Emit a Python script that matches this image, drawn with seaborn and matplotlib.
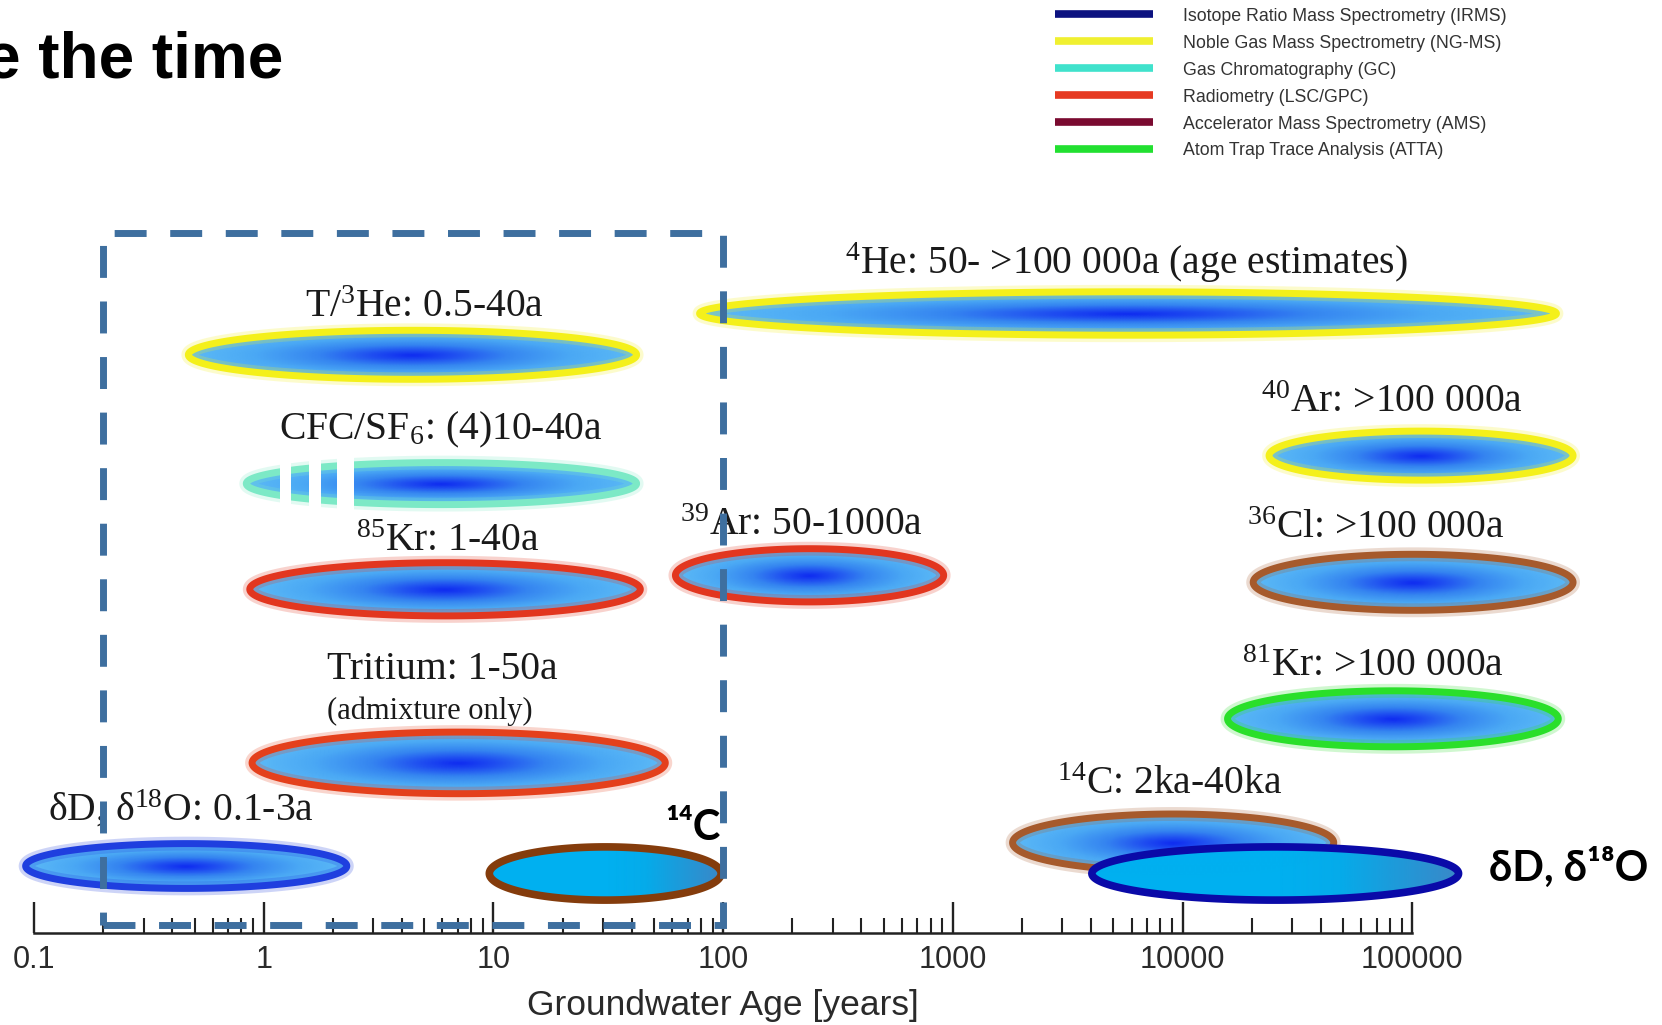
import numpy as np
import matplotlib
matplotlib.use("Agg")
import matplotlib.pyplot as plt
import seaborn as sns
from matplotlib.patches import Polygon, Rectangle
from matplotlib.colors import LinearSegmentedColormap
from matplotlib.lines import Line2D

# ---------------- data ----------------
tracers = ["T/3He", "CFC/SF6", "Kr85", "Tritium", "dD_short", "C14_short",
           "He4", "Ar40", "Ar39", "Cl36", "Kr81", "C14", "dD_long"]
age_min = [0.47, 0.84, 0.87, 0.89, 0.092, 9.6, 79, 23800, 62, 20300, 15700, 1820, 4030]
age_max = [42, 42, 43.6, 56, 2.3, 98, 424000, 501000, 912, 501000, 432000, 45500, 159000]
row_level = [8.26, 6.42, 4.91, 2.43, 0.957, 0.85, 8.85, 6.82, 5.11, 5.01, 3.06, 1.29, 0.85]
row_halfheight = [0.35, 0.30, 0.38, 0.44, 0.32, 0.38, 0.31, 0.35, 0.38, 0.40, 0.40, 0.41, 0.38]
edge_colors = ["#f4f01a", "#7ce9c6", "#e2361f", "#e4401c", "#1f3fdf", "#843c0c",
               "#f4f01a", "#f4f01a", "#e2361f", "#a65a2c", "#2adf2a", "#a65a2c", "#0a0aa8"]
flat_fill = [False, False, False, False, False, True,
             False, False, False, False, False, False, True]

cfc_gaps = [(1.18, 1.31), (1.57, 1.77), (2.08, 2.47)]

label_texts = ["T/$^{3}$He: 0.5-40a", "CFC/SF$_{6}$: (4)10-40a", "$^{85}$Kr: 1-40a",
               "Tritium: 1-50a", "δD, δ$^{18}$O: 0.1-3a", "$^{39}$Ar: 50-1000a",
               "$^{4}$He: 50- >100 000a (age estimates)", "$^{40}$Ar: >100 000a",
               "$^{36}$Cl: >100 000a", "$^{81}$Kr: >100 000a", "$^{14}$C: 2ka-40ka"]
label_x = [4.99, 5.92, 6.35, 5.97, 0.436, 220, 5690, 81800, 69000, 67300, 8790]
label_y = [8.80, 7.05, 5.46, 3.63, 1.60, 5.69, 9.41, 7.45, 5.64, 3.67, 1.98]
note_text, note_x, note_y = "(admixture only)", 5.31, 3.05

bold_texts = ["¹⁴C", "δD, δ¹⁸O"]
bold_x = [74, 215800]
bold_y = [1.50, 0.94]
bold_ha = ["center", "left"]

window_x = [0.2, 100]
window_y = [0.11, 10.0]

tick_values = [0.1, 1, 10, 100, 1000, 10000, 100000]
tick_labels = ["0.1", "1", "10", "100", "1000", "10000", "100000"]

legend_labels = ["Isotope Ratio Mass Spectrometry (IRMS)", "Noble Gas Mass Spectrometry (NG-MS)",
                 "Gas Chromatography (GC)", "Radiometry (LSC/GPC)",
                 "Accelerator Mass Spectrometry (AMS)", "Atom Trap Trace Analysis (ATTA)"]
legend_colors = ["#0c1280", "#f0f030", "#40e2cc", "#e63a22", "#7a0a30", "#22e030"]

title_text = "e the time"

# ---------------- style ----------------
sns.set_theme(style="white")
plt.rcParams["font.family"] = ["Liberation Sans", "DejaVu Sans"]
plt.rcParams["mathtext.fontset"] = "custom"
plt.rcParams["mathtext.rm"] = "Liberation Serif"
plt.rcParams["mathtext.it"] = "Liberation Serif:italic"
plt.rcParams["mathtext.bf"] = "Liberation Serif:bold"
plt.rcParams["mathtext.default"] = "regular"
SERIF = ["Liberation Serif", "DejaVu Serif"]
BOLD = ["Lato", "DejaVu Sans"]

W, H = 1662, 1025
fig = plt.figure(figsize=(W / 100, H / 100), dpi=100, facecolor="white")
ax = fig.add_axes([11 / W, 92 / H, 1631 / W, 700 / H])
ax.set_xscale("log")
ax.set_xlim(10 ** -1.1, 10 ** 6.0)
ax.set_ylim(0, 10)
ax.set_facecolor("white")

grad_cmap = LinearSegmentedColormap.from_list(
    "grad", [(0, "#0f2cf0"), (0.18, "#1f4ef0"), (0.42, "#3585f0"),
             (0.7, "#4aa8f4"), (1.0, "#5cbaf6")])
flat_cmap = LinearSegmentedColormap.from_list(
    "flat", [(0, "#00b0f0"), (0.35, "#05abea"), (1.0, "#3a88c8")])

t = np.linspace(0, 2 * np.pi, 500)
for i in range(len(tracers)):
    u0, u1 = np.log10(age_min[i]), np.log10(age_max[i])
    cu, a = (u0 + u1) / 2, (u1 - u0) / 2
    cy, b = row_level[i], row_halfheight[i]
    verts = np.column_stack([10 ** (cu + a * np.cos(t)), cy + b * np.sin(t)])
    z = 2 + i * 0.1
    clip = Polygon(verts, closed=True, facecolor="none", edgecolor="none", zorder=z)
    ax.add_patch(clip)
    gu = np.linspace(cu - a, cu + a, 300)
    gy = np.linspace(cy - b, cy + b, 60)
    U, Y = np.meshgrid(gu, gy)
    if flat_fill[i]:
        C = np.clip((U - cu) / a, 0, 1)
        cmap = flat_cmap
    else:
        C = np.clip(np.sqrt(((U - cu) / a) ** 2 + ((Y - cy) / b) ** 2), 0, 1)
        cmap = grad_cmap
    mesh = ax.pcolormesh(10 ** gu, gy, C, shading="gouraud", cmap=cmap,
                         vmin=0, vmax=1, zorder=z)
    mesh.set_clip_path(clip)
    if not flat_fill[i]:
        ax.add_patch(Polygon(verts, closed=True, facecolor="none",
                             edgecolor=edge_colors[i], lw=10, alpha=0.22, zorder=z + 0.01))
        ax.add_patch(Polygon(verts, closed=True, facecolor="none",
                             edgecolor=edge_colors[i], lw=5, zorder=z + 0.02))
    else:
        ax.add_patch(Polygon(verts, closed=True, facecolor="none",
                             edgecolor=edge_colors[i], lw=5.5, zorder=z + 0.02))
    if tracers[i] == "CFC/SF6":
        for g0, g1 in cfc_gaps:
            ax.add_patch(Rectangle((g0, cy - b - 0.12), g1 - g0, 2 * b + 0.24,
                                   facecolor="white", edgecolor="none", zorder=z + 0.05))

for txt, x, y in zip(label_texts, label_x, label_y):
    ax.text(x, y, txt, ha="center", va="baseline", fontsize=28.5, family=SERIF,
            color="#1a1a1a", zorder=10)
ax.text(note_x, note_y, note_text, ha="center", va="baseline", fontsize=22,
        family=SERIF, color="#1a1a1a", zorder=10)
for txt, x, y, ha in zip(bold_texts, bold_x, bold_y, bold_ha):
    ax.text(x, y, txt, ha=ha, va="center", fontsize=30, family=BOLD,
            fontweight="bold", color="black", zorder=10, clip_on=False)

ax.add_patch(Rectangle((window_x[0], window_y[0]), window_x[1] - window_x[0],
                       window_y[1] - window_y[0], fill=False, edgecolor="#3e6f9f",
                       lw=5, linestyle=(0, (4.6, 3.4)), joinstyle="miter",
                       capstyle="butt", zorder=12, clip_on=False))

# axis
for s in ["left", "right", "top"]:
    ax.spines[s].set_visible(False)
ax.spines["bottom"].set_bounds(tick_values[0], tick_values[-1])
ax.spines["bottom"].set_color("#222222")
ax.spines["bottom"].set_linewidth(1.8)
ax.set_yticks([])
ax.set_xticks(tick_values)
ax.set_xticklabels(tick_labels)
minor = [k * v for v in tick_values[:-1] for k in range(2, 10)]
ax.set_xticks(minor, minor=True)
ax.tick_params(axis="x", which="both", bottom=True, direction="in", color="#222222",
               labelsize=22, labelcolor="#2a2a2a", pad=8.5)
ax.tick_params(axis="x", which="major", length=22, width=1.7)
ax.tick_params(axis="x", which="minor", length=10.5, width=1.5)
ax.set_xlabel("Groundwater Age [years]", fontsize=25.5, color="#2a2a2a")
ax.xaxis.set_label_coords((723 - 11) / 1631, -(989 - 933) / 700)

# legend
handles = [Line2D([], [], color=c, lw=5.5, solid_capstyle="butt") for c in legend_colors]
leg = ax.legend(handles, legend_labels, loc="upper left",
                bbox_to_anchor=(1055 / W, 1 - 7.7 / H), bbox_transform=fig.transFigure,
                frameon=False, fontsize=12.8, handlelength=5.54, handletextpad=1.67,
                labelspacing=0.56, borderpad=0, borderaxespad=0)
for txt in leg.get_texts():
    txt.set_color("#333333")

fig.text(283 / W, 1 - 77 / H, title_text, ha="right", va="baseline", fontsize=46,
         fontweight="bold", color="black")

fig.savefig("out.png", dpi=100, facecolor="white")
